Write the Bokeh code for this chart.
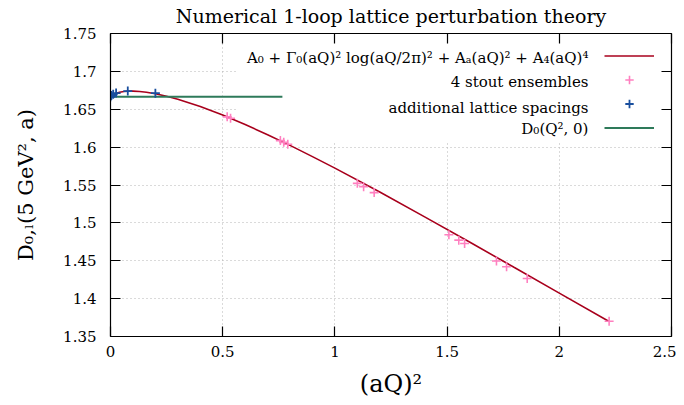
from bokeh.plotting import figure
from bokeh.models import (LinearAxis, FixedTicker, Legend, LegendItem, Label,
                          BoxAnnotation, Range1d)
from bokeh.embed import file_html
from bokeh.resources import INLINE

# ---------------- data ----------------
fit_x = [0.0, 0.01, 0.02, 0.04, 0.06, 0.08, 0.10, 0.13, 0.16, 0.20, 0.25,
         0.30, 0.40, 0.50, 0.60, 0.70, 0.80, 0.90, 1.00, 1.20, 1.40, 1.60,
         1.80, 2.00, 2.22]
fit_y = [1.6665, 1.6691, 1.6706, 1.6724, 1.6734, 1.6739, 1.6739, 1.6735,
         1.6725, 1.6705, 1.6672, 1.6633, 1.6536, 1.6424, 1.6299, 1.6164,
         1.6023, 1.5875, 1.5723, 1.5407, 1.5079, 1.4748, 1.4410, 1.4073,
         1.3702]

stout_x = [0.520, 0.535, 0.757, 0.772, 0.790, 1.100, 1.128, 1.175, 1.508,
           1.552, 1.578, 1.720, 1.765, 1.857, 2.222]
stout_y = [1.6400, 1.6381, 1.6086, 1.6063, 1.6037, 1.5522, 1.5478, 1.5400,
           1.4844, 1.4772, 1.4728, 1.4497, 1.4420, 1.4266, 1.3702]

add_x = [0.000, 0.004, 0.012, 0.025, 0.077, 0.200]
add_y = [1.6665, 1.6683, 1.6697, 1.6713, 1.6740, 1.6712]

d0_x = [0.0, 0.766]
d0_y = [1.6665, 1.6665]

x_ticks = [0, 0.5, 1, 1.5, 2, 2.5]
x_tick_labels = ["0", "0.5", "1", "1.5", "2", "2.5"]
y_ticks = [1.35, 1.4, 1.45, 1.5, 1.55, 1.6, 1.65, 1.7, 1.75]
y_tick_labels = ["1.35", "1.4", "1.45", "1.5", "1.55", "1.6", "1.65", "1.7", "1.75"]

legend_labels = ["A\u2080 + \u0393\u2080(aQ)\u00b2 log(aQ/2\u03c0)\u00b2 + A\u2090(aQ)\u00b2 + A\u2084(aQ)\u2074",
                 "4 stout ensembles",
                 "additional lattice spacings",
                 "D\u2080(Q\u00b2, 0)"]

title_text = "Numerical 1-loop lattice perturbation theory"
x_label = "(aQ)\u00b2"
y_label = "D\u2080,\u2097(5 GeV\u00b2, a)"

# ---------------- styling ----------------
FONT = "DejaVu Serif"
RED = "#a8001c"
PINK = "#ff80c0"
BLUE = "#1a4f9e"
GREEN = "#2e7a5a"

p = figure(frame_width=561, frame_height=303, output_backend="svg",
           toolbar_location=None,
           x_range=Range1d(0, 2.5), y_range=Range1d(1.35, 1.75),
           min_border_left=110, min_border_right=5, min_border_top=33,
           min_border_bottom=61, title=title_text)
p.title.text_font = FONT
p.title.text_font_size = "19px"
p.title.text_font_style = "normal"
p.title.align = "center"
p.title.vertical_align = "top"
p.title.text_color = "black"
p.title.standoff = 9
p.outline_line_color = None

xt = FixedTicker(ticks=x_ticks)
yt = FixedTicker(ticks=y_ticks)
xover = {t: l for t, l in zip(x_ticks, x_tick_labels)}
yover = {t: l for t, l in zip(y_ticks, y_tick_labels)}


def style_axis(ax, ticker, over, show_labels):
    ax.ticker = ticker
    ax.major_tick_in = 10
    ax.major_tick_out = 0
    ax.minor_tick_in = 0
    ax.minor_tick_out = 0
    ax.axis_line_color = "black"
    ax.axis_line_width = 1.2
    ax.major_tick_line_color = "black"
    ax.major_tick_line_width = 1.2
    if show_labels:
        ax.major_label_overrides = over
        ax.major_label_text_font = FONT
        ax.major_label_text_font_size = "15px"
        ax.major_label_text_color = "black"
    else:
        ax.major_label_overrides = {t: "" for t in over}
        ax.major_label_standoff = 0


style_axis(p.xaxis[0], xt, xover, True)
style_axis(p.yaxis[0], yt, yover, True)
p.xaxis[0].major_label_standoff = 9
p.yaxis[0].major_label_standoff = 14
p.xaxis[0].axis_label = x_label
p.yaxis[0].axis_label = y_label
for ax in (p.xaxis[0], p.yaxis[0]):
    ax.axis_label_text_font = FONT
    ax.axis_label_text_font_style = "normal"
    ax.axis_label_text_color = "black"
p.xaxis[0].axis_label_text_font_size = "24px"
p.yaxis[0].axis_label_text_font_size = "21px"
p.xaxis[0].axis_label_standoff = 10
p.yaxis[0].axis_label_standoff = 22

top_ax = LinearAxis()
right_ax = LinearAxis()
style_axis(top_ax, xt, xover, False)
style_axis(right_ax, yt, yover, False)
p.add_layout(top_ax, "above")
p.add_layout(right_ax, "right")

p.grid.grid_line_color = "#b4b4b4"
p.grid.grid_line_dash = "1 3"
p.grid.grid_line_width = 1
p.xgrid.ticker = xt
p.ygrid.ticker = yt

# opaque key area hides the grid
key_box = BoxAnnotation(left=0.561, right=2.5, bottom=1.607, top=1.75,
                        fill_color="white", fill_alpha=1.0, line_alpha=0,
                        level="underlay")
p.add_layout(key_box)

r_fit = p.line(fit_x, fit_y, line_color=RED, line_width=1.6)
r_d0 = p.line(d0_x, d0_y, line_color=GREEN, line_width=2.2)
r_stout = p.scatter(stout_x, stout_y, marker="cross", size=9, line_color=PINK,
                    line_width=1.6)
r_add = p.scatter(add_x, add_y, marker="cross", size=9, line_color=BLUE,
                  line_width=1.8)

legend = Legend(items=[LegendItem(label=" ", renderers=[r_fit]),
                       LegendItem(label=" ", renderers=[r_stout]),
                       LegendItem(label=" ", renderers=[r_add]),
                       LegendItem(label=" ", renderers=[r_d0])],
                location="top_right", glyph_width=50, glyph_height=21,
                label_width=5, label_standoff=0, label_height=21,
                spacing=3, padding=8, margin=4,
                background_fill_alpha=0, border_line_alpha=0,
                label_text_font_size="10px")
p.add_layout(legend)

label_x = 2.13
label_ys = [1.7175, 1.6866, 1.6510, 1.6233]
for txt, ly in zip(legend_labels, label_ys):
    p.add_layout(Label(x=label_x, y=ly, text=txt, text_align="right",
                       text_baseline="middle", text_font=FONT,
                       text_font_size="15px", text_color="black"))

open("out.html", "w").write(file_html(p, INLINE))
